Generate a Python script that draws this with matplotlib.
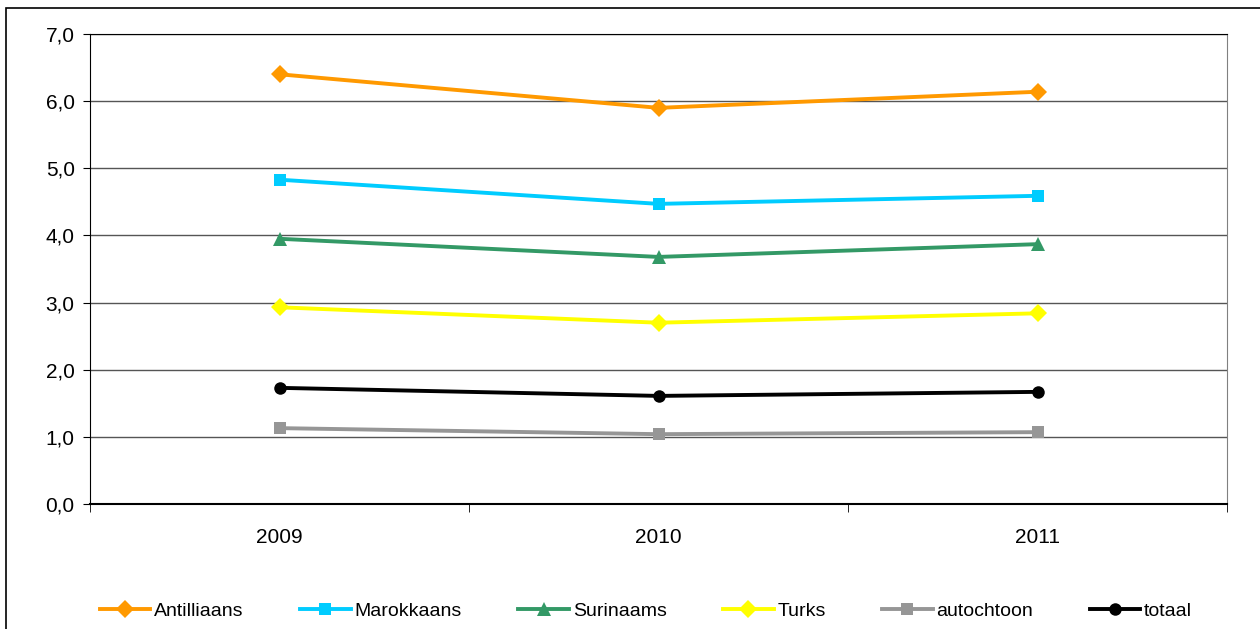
import matplotlib
matplotlib.use('Agg')
import matplotlib.pyplot as plt
from matplotlib.patches import Rectangle
import numpy as np

plt.rcParams['font.family'] = ['Liberation Sans', 'DejaVu Sans']

years = ['2009', '2010', '2011']
antilliaans = [6.40, 5.90, 6.14]
marokkaans = [4.83, 4.47, 4.59]
surinaams = [3.95, 3.68, 3.87]
turks = [2.93, 2.70, 2.84]
autochtoon = [1.13, 1.04, 1.07]
totaal = [1.73, 1.61, 1.67]

series = [
    ('Antilliaans', antilliaans, '#FF9900', 'D', 9),
    ('Marokkaans', marokkaans, '#00CCFF', 's', 9),
    ('Surinaams', surinaams, '#339966', '^', 10),
    ('Turks', turks, '#FFFF00', 'D', 9),
    ('autochtoon', autochtoon, '#969696', 's', 9),
    ('totaal', totaal, '#000000', 'o', 9),
]

fig = plt.figure(figsize=(12.6, 6.29), dpi=100)
ax = fig.add_axes([90/1260, 1 - 504/629, (1227 - 90)/1260, (504 - 34)/629])

x = np.arange(len(years))
for name, vals, col, mk, ms in series:
    ax.plot(x, vals, color=col, marker=mk, markersize=ms, linewidth=2.8,
            label=name, markeredgewidth=0)

ax.set_xlim(-0.5, 2.5)
ax.set_ylim(0, 7)
yt = np.arange(0, 8, 1)
ax.set_yticks(yt)
ax.set_yticklabels([('%.1f' % v).replace('.', ',') for v in yt], fontsize=15)
ax.set_xticks(x)
ax.set_xticklabels(years, fontsize=15)
ax.tick_params(axis='x', length=0, pad=17)
ax.set_xticks([-0.5, 0.5, 1.5, 2.5], minor=True)
ax.tick_params(axis='x', which='minor', length=6, direction='out', color='black')
ax.tick_params(axis='y', length=5, direction='out', pad=6)

ax.yaxis.grid(True, color='#555555', linewidth=1)
ax.set_axisbelow(True)
ax.spines['top'].set_color('black')
ax.spines['right'].set_color('#808080')
ax.spines['left'].set_color('black')
ax.spines['bottom'].set_color('black')
ax.spines['bottom'].set_linewidth(1.5)

ax.legend(loc='center', bbox_to_anchor=(646/1260, (629 - 611)/629), bbox_transform=fig.transFigure,
          ncol=6, frameon=False, fontsize=14, columnspacing=2.9, handlelength=2.6,
          handletextpad=0.2)

fig.patches.append(Rectangle((6/1260, -0.1), 1.1, 1 - 8/629 + 0.1, transform=fig.transFigure,
                             fill=False, edgecolor='black', linewidth=1.2))

fig.savefig('out.png', dpi=100)
